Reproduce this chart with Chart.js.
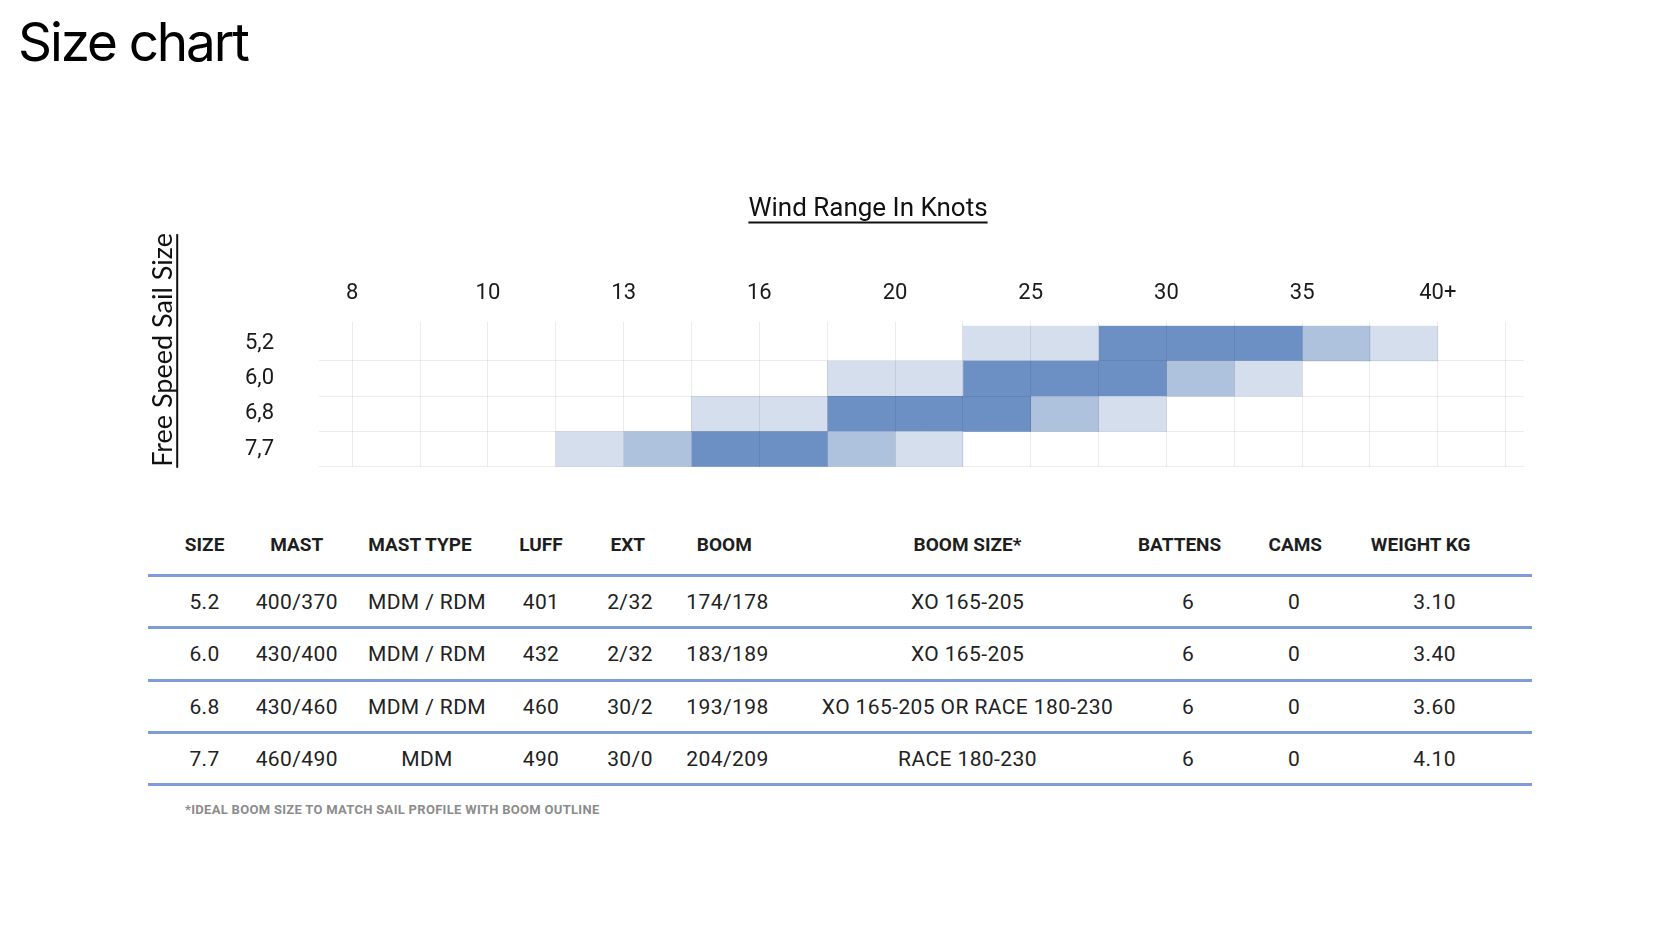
<!DOCTYPE html>
<html>
<head>
<meta charset="utf-8">
<title>Size chart</title>
<script src="https://cdn.jsdelivr.net/npm/chart.js@4.4.1/dist/chart.umd.min.js"></script>
<style>
  html, body { margin: 0; padding: 0; background: #fff; }
  body { width: 1680px; height: 926px; position: relative; overflow: hidden; font-family: Roboto, "DejaVu Sans", sans-serif; color: #1c1c1c; }
  h1 { position: absolute; left: 18px; top: 16px; margin: 0; font: 400 53px/1 Inter, sans-serif; letter-spacing: -2.1px; color: #000; }
  #wind { position: absolute; left: 140px; top: 170px; }
  .rule { position: absolute; left: 148px; width: 1384px; height: 3px; background: #7f9bdb; }
  .cell { position: absolute; transform: translate(-50%, -50%); white-space: nowrap; line-height: 1; }
  .head { font-weight: 700; font-size: 19px; color: #1e1e1e; }
  .val { font-size: 21px; letter-spacing: 0.4px; color: #222; }
  .note { position: absolute; left: 185px; top: 803px; font: 700 13px/1 Roboto, sans-serif; color: #8c8c8c; letter-spacing: 0.3px; }
</style>
</head>
<body>
<h1>Size chart</h1>
<canvas id="wind" width="1456" height="355"></canvas>
<div id="table"></div>
<div class="note">*IDEAL BOOM SIZE TO MATCH SAIL PROFILE WITH BOOM OUTLINE</div>
<script>
// wind range chart
const sailSizes = ['5,2', '6,0', '6,8', '7,7'];
const windTicks = ['8', '10', '13', '16', '20', '25', '30', '35', '40+'];
// shade of each wind step between grid lines: 0 none, 1 light, 2 medium, 3 full
const shade52 = [0, 0, 0, 0, 0, 0, 0, 0, 0, 1, 1, 3, 3, 3, 2, 1, 0];
const shade60 = [0, 0, 0, 0, 0, 0, 0, 1, 1, 3, 3, 3, 2, 1, 0, 0, 0];
const shade68 = [0, 0, 0, 0, 0, 1, 1, 3, 3, 3, 2, 1, 0, 0, 0, 0, 0];
const shade77 = [0, 0, 0, 1, 2, 3, 3, 2, 1, 0, 0, 0, 0, 0, 0, 0, 0];

// spec table
const tableHeads = ['SIZE', 'MAST', 'MAST TYPE', 'LUFF', 'EXT', 'BOOM', 'BOOM SIZE*', 'BATTENS', 'CAMS', 'WEIGHT KG'];
const sizes = ['5.2', '6.0', '6.8', '7.7'];
const masts = ['400/370', '430/400', '430/460', '460/490'];
const mastTypes = ['MDM / RDM', 'MDM / RDM', 'MDM / RDM', 'MDM'];
const luffs = ['401', '432', '460', '490'];
const exts = ['2/32', '2/32', '30/2', '30/0'];
const booms = ['174/178', '183/189', '193/198', '204/209'];
const boomSizes = ['XO 165-205', 'XO 165-205', 'XO 165-205 OR RACE 180-230', 'RACE 180-230'];
const battens = ['6', '6', '6', '6'];
const cams = ['0', '0', '0', '0'];
const weights = ['3.10', '3.40', '3.60', '4.10'];

const shades = [shade52, shade60, shade68, shade77];
const shadeColors = ['rgba(0,0,0,0)', '#d4deed', '#aec2de', '#6c8fc4'];

const datasets = [];
for (let i = 0; i < shade52.length; i++) {
  datasets.push({
    label: 'step ' + i,
    data: shades.map((row) => (row[i] ? [i, i + 1] : null)),
    backgroundColor: shades.map((row) => shadeColors[row[i]]),
    grouped: false,
    barPercentage: 1,
    categoryPercentage: 1,
    borderWidth: 0,
  });
}

const gridGrey = 'rgba(0,0,0,0.075)';

// Chart.js has no underline, so draw it under both titles
const underlines = {
  id: 'underlines',
  afterDraw(chart) {
    const ctx = chart.ctx;
    ctx.save();
    ctx.strokeStyle = '#111';
    ctx.lineWidth = 2;

    const t = chart.options.plugins.title;
    const tb = chart.titleBlock;
    ctx.font = t.font.size + 'px ' + t.font.family;
    let w = ctx.measureText(t.text).width;
    const cx = (tb.left + tb.right) / 2;
    const ty = tb.top + t.padding.top + (t.font.size * 1.2) / 2 + 13;
    ctx.beginPath();
    ctx.moveTo(cx - w / 2, ty);
    ctx.lineTo(cx + w / 2, ty);
    ctx.stroke();

    const yScale = chart.scales.y;
    const yt = yScale.options.title;
    ctx.font = yt.font.size + 'px ' + yt.font.family;
    w = ctx.measureText(yt.text).width;
    const ux = yScale.left + yt.padding.top + (yt.font.size * 1.2) / 2 + 14;
    ctx.beginPath();
    ctx.moveTo(ux, yScale.bottom + 1);
    ctx.lineTo(ux, yScale.bottom + 1 - w);
    ctx.stroke();
    ctx.restore();
  },
};

Chart.defaults.font.family = 'Roboto';

new Chart(document.getElementById('wind'), {
  type: 'bar',
  data: { labels: sailSizes, datasets: datasets },
  options: {
    indexAxis: 'y',
    responsive: false,
    animation: false,
    events: [],
    layout: { padding: 0 },
    plugins: {
      legend: { display: false },
      tooltip: { enabled: false },
      title: {
        display: true,
        text: 'Wind Range In Knots',
        color: '#111',
        font: { family: 'Roboto', size: 26, weight: 'normal' },
        padding: { top: 24, bottom: 7 },
      },
    },
    scales: {
      x: {
        type: 'linear',
        position: 'top',
        min: -0.49,
        max: 17.27,
        afterFit: (s) => { s.height = 93.5; },
        ticks: {
          stepSize: 1,
          includeBounds: false,
          autoSkip: false,
          maxRotation: 0,
          padding: 15,
          color: '#1a1a1a',
          font: { size: 22 },
          callback: (v) => (v % 2 === 0 ? windTicks[v / 2] : ''),
        },
        grid: { color: gridGrey, z: 1, drawTicks: true, tickLength: 4 },
        border: { display: false },
      },
      y: {
        afterFit: (s) => { s.width = 179; },
        ticks: { padding: 45, autoSkip: false, color: '#1a1a1a', font: { size: 22 } },
        grid: {
          drawTicks: false,
          z: 1,
          color: (c) => (c.index === 0 ? 'rgba(0,0,0,0)' : gridGrey),
        },
        border: { display: false },
        title: {
          display: true,
          text: 'Free Speed Sail Size',
          align: 'start',
          color: '#111',
          font: { family: 'Lato', size: 27 },
          padding: { top: 7, bottom: 0 },
        },
      },
      // empty right-hand strip so the title centres where it should
      spacer: {
        type: 'linear',
        position: 'right',
        afterFit: (s) => { s.width = 72; },
        ticks: { display: false },
        grid: { display: false },
        border: { display: false },
      },
    },
  },
  plugins: [underlines],
});

// table below the chart
const columns = [sizes, masts, mastTypes, luffs, exts, booms, boomSizes, battens, cams, weights];
const headCenters = [204.6, 296.8, 420, 541, 627.8, 724.3, 967.5, 1179.6, 1295.3, 1420.7];
const valueCenters = [204.6, 296.8, 427, 541, 630, 727.5, 967.5, 1188, 1294, 1434.6];
const headY = 544;
const rowY = [601.6, 654, 706.6, 758.6];
const ruleY = [575.4, 627.9, 680.4, 732.9, 784.3];

const table = document.getElementById('table');
function addCell(text, cls, x, y) {
  const el = document.createElement('div');
  el.className = 'cell ' + cls;
  el.textContent = text;
  el.style.left = x + 'px';
  el.style.top = y + 'px';
  table.appendChild(el);
}
tableHeads.forEach((h, c) => addCell(h, 'head', headCenters[c], headY));
columns.forEach((col, c) => {
  col.forEach((v, r) => addCell(v, 'val', valueCenters[c], rowY[r]));
});
ruleY.forEach((y) => {
  const el = document.createElement('div');
  el.className = 'rule';
  el.style.top = (y - 1.5) + 'px';
  table.appendChild(el);
});
</script>
</body>
</html>
